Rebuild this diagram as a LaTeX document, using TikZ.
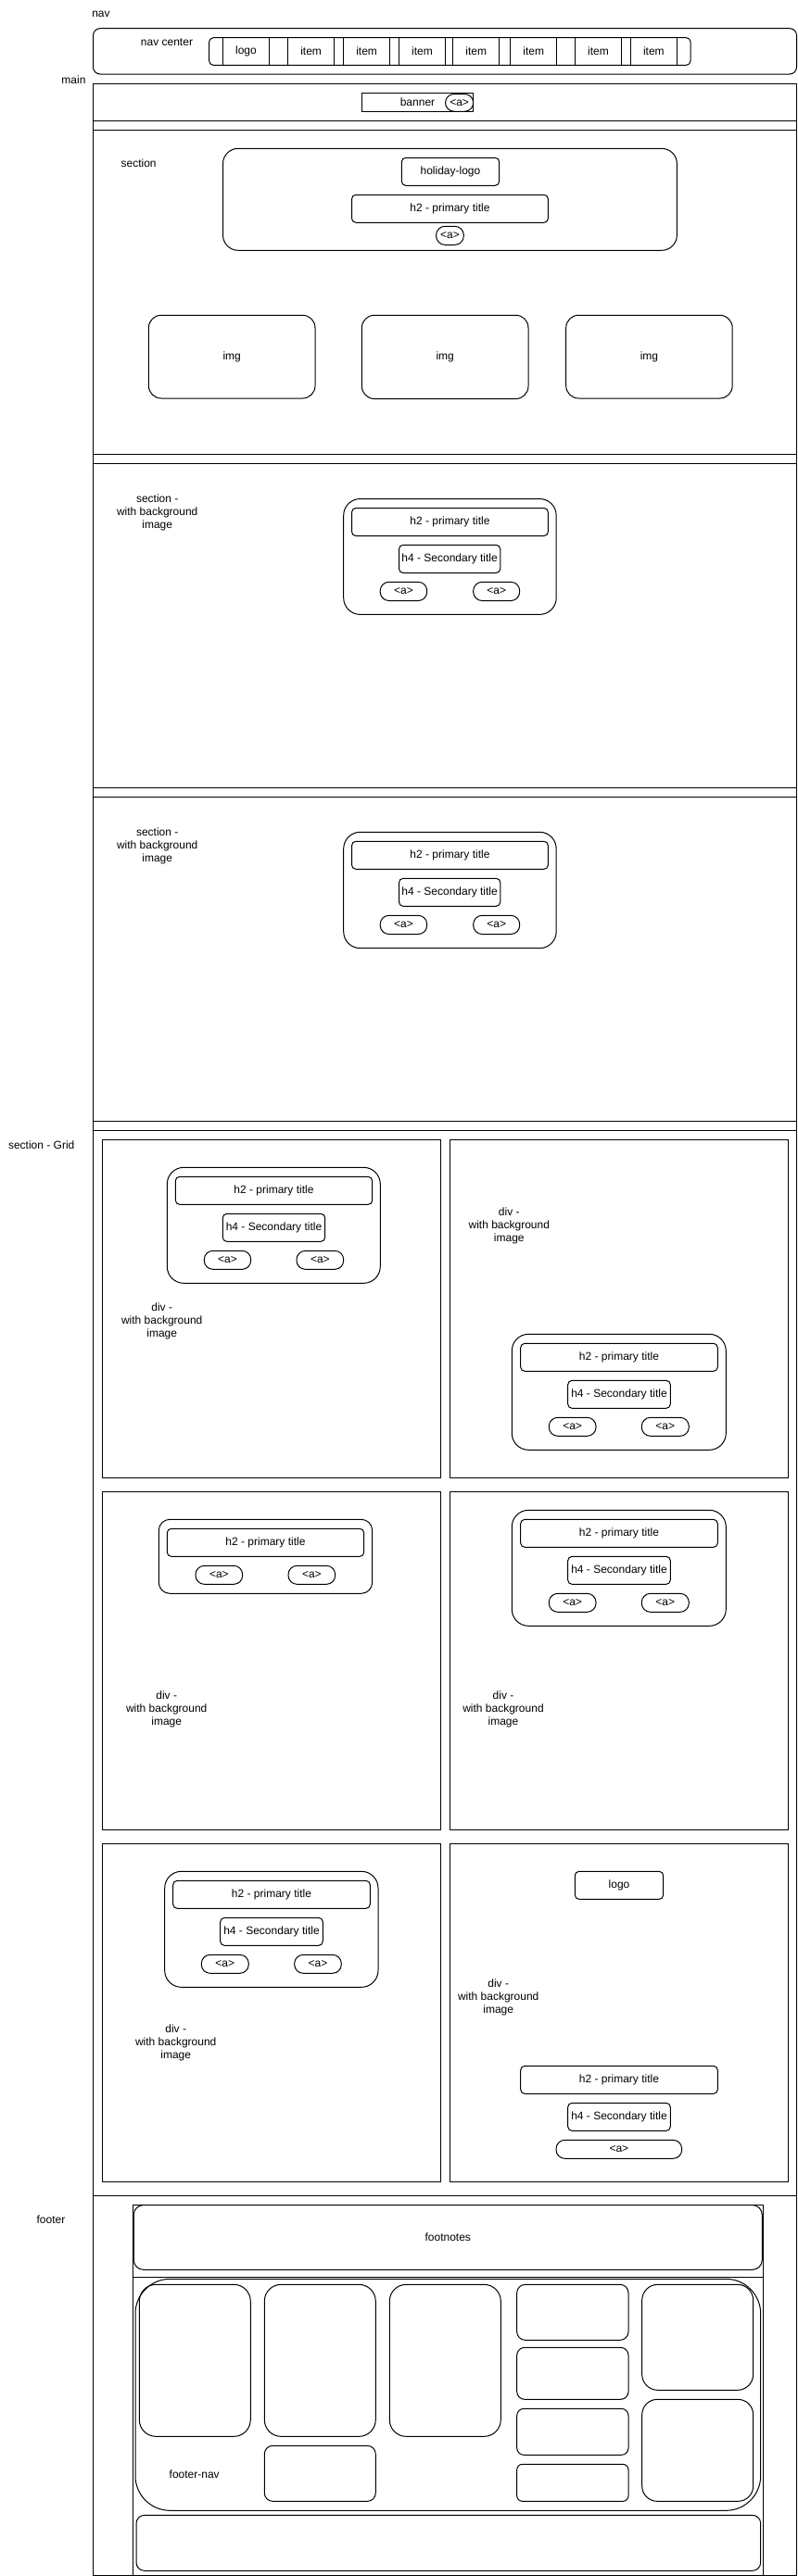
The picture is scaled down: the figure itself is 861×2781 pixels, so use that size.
\documentclass[tikz,border=0pt]{standalone}
\usepackage{fontspec}
\setmainfont{Liberation Sans}
\tikzset{
  box/.style={draw, line width=1pt, inner sep=0pt, outer sep=0pt, font=\fontsize{12}{14}\selectfont, align=center},
  lbl/.style={inner sep=0pt, font=\fontsize{12}{14}\selectfont, align=center},
  pill/.style={rounded corners=9.5pt},
  sm/.style={rounded corners=4.5pt},
}
\newcommand\bx[7][]{\node[box,#1,minimum width={(#5)-(#3)},minimum height={(#6)-(#4)}] (#2) at ({((#3)+(#5))/2},{((#4)+(#6))/2}) {#7};}
\begin{document}
\begin{tikzpicture}[x=1pt,y=-1pt]
\useasboundingbox (0,0) rectangle (861,2781);
% ---------- nav ----------
\node[lbl] (navlbl) at (109,15.7) {nav};
\bx[rounded corners=7.5pt]{nav}{100.5}{30.7}{859.5}{80}{}
\node[lbl] (navclbl) at (180,46) {nav center};
\bx[sm]{navc}{225.7}{40.7}{745}{70.3}{}
\bx{ni0}{240.5}{40.7}{290.5}{70.3}{logo}
\bx{ni1}{310.8}{40.7}{360.4}{70.3}{item}
\bx{ni2}{370.7}{40.7}{420.6}{70.3}{item}
\bx{ni3}{430.5}{40.7}{480.5}{70.3}{item}
\bx{ni4}{488.7}{40.7}{538.7}{70.3}{item}
\bx{ni5}{550.8}{40.7}{600.8}{70.3}{item}
\bx{ni6}{620.5}{40.7}{670.5}{70.3}{item}
\bx{ni7}{680.4}{40.7}{730.4}{70.3}{item}
% ---------- main ----------
\node[lbl] (mainlbl) at (79.5,86) {main};
\bx{main}{100.5}{90.5}{859.5}{2780.3}{}
\bx{bannerrow}{100.5}{90.5}{859.5}{130.5}{}
\bx{banner}{390.3}{100.3}{510.7}{120.3}{banner}
\bx[pill]{bannera}{480.5}{101.5}{510.7}{120.3}{<a>}
% ---------- section 1 ----------
\bx{sec1}{100.5}{140.5}{859.5}{490.5}{}
\node[lbl] (sec1lbl) at (149.6,176) {section};
\bx[rounded corners=16.5pt]{hol}{240.5}{160.3}{730.4}{270.3}{}
\bx[sm]{hollogo}{433.3}{170.3}{538.7}{200.3}{holiday-logo}
\bx[sm]{holh2}{379.5}{210.3}{591.4}{240.3}{h2 - primary title}
\bx[pill]{hola}{470.6}{244.3}{500.3}{264.3}{<a>}
\bx[rounded corners=13.5pt]{img1}{160.4}{340.3}{340}{430}{img}
\bx[rounded corners=13.5pt]{img2}{390.4}{340.3}{570}{430.5}{img}
\bx[rounded corners=13.5pt]{img3}{610.7}{340.3}{790.2}{430}{img}
% ---------- section 2 ----------
\bx{sec2}{100.5}{500.5}{859.5}{850.5}{}
\node[lbl] (sec2lbl) at (169.7,552.9) {section -\\with background\\image};
\bx[rounded corners=18pt]{s2in}{370.7}{538.5}{600.2}{663.4}{}
\bx[sm]{s2h2}{379.5}{548.5}{591.4}{578.5}{h2 - primary title}
\bx[sm]{s2h4}{430.5}{588.3}{539.8}{618.5}{h4 - Secondary title}
\bx[pill]{s2a1}{410.2}{628.3}{460.7}{648.5}{<a>}
\bx[pill]{s2a2}{510.7}{628.3}{560.7}{648.5}{<a>}
% ---------- section 3 ----------
\bx{sec3}{100.5}{860.5}{859.5}{1210.5}{}
\node[lbl] (sec3lbl) at (169.7,913) {section -\\with background\\image};
\bx[rounded corners=18pt]{s3in}{370.7}{898.3}{600.2}{1023.7}{}
\bx[sm]{s3h2}{379.5}{908.3}{591.4}{938.3}{h2 - primary title}
\bx[sm]{s3h4}{430.5}{948.3}{539.8}{978.3}{h4 - Secondary title}
\bx[pill]{s3a1}{410.2}{988.3}{460.7}{1008.5}{<a>}
\bx[pill]{s3a2}{510.7}{988.3}{560.7}{1008.5}{<a>}
% ---------- grid ----------
\bx{grid}{100.5}{1220.5}{859.5}{2370.5}{}
\node[lbl] (gridlbl) at (44.7,1236) {section - Grid};
\bx{cTL}{110.3}{1230.3}{475.7}{1595.3}{}
\bx{cTR}{485.3}{1230.3}{850.7}{1595.3}{}
\bx{cML}{110.3}{1610.3}{475.7}{1975.3}{}
\bx{cMR}{485.3}{1610.3}{850.7}{1975.3}{}
\bx{cBL}{110.3}{1990.3}{475.7}{2355.3}{}
\bx{cBR}{485.3}{1990.3}{850.7}{2355.3}{}
% TL
\bx[rounded corners=18pt]{tlin}{180.3}{1260.3}{410.3}{1385.3}{}
\bx[sm]{tlh2}{189.3}{1270.3}{401.7}{1300.3}{h2 - primary title}
\bx[sm]{tlh4}{240.3}{1310.3}{350.7}{1340.3}{h4 - Secondary title}
\bx[pill]{tla1}{220.3}{1350.3}{270.7}{1370.3}{<a>}
\bx[pill]{tla2}{320}{1350.3}{370.7}{1370.3}{<a>}
\node[lbl] (tllbl) at (174.7,1426) {div -\\with background\\image};
% TR
\node[lbl] (trlbl) at (549.3,1323) {div -\\with background\\image};
\bx[rounded corners=18pt]{trin}{552.3}{1440.3}{783.3}{1565.3}{}
\bx[sm]{trh2}{561.7}{1450.3}{774.3}{1480.3}{h2 - primary title}
\bx[sm]{trh4}{612.7}{1490.3}{723.3}{1520.3}{h4 - Secondary title}
\bx[pill]{tra1}{592.3}{1530.3}{643}{1550.3}{<a>}
\bx[pill]{tra2}{692.3}{1530.3}{743.3}{1550.3}{<a>}
% ML
\bx[rounded corners=12pt]{mlin}{171.3}{1640.3}{401.7}{1720.3}{}
\bx[sm]{mlh2}{180.3}{1650.3}{392.7}{1680.3}{h2 - primary title}
\bx[pill]{mla1}{211}{1690.3}{261.7}{1710.3}{<a>}
\bx[pill]{mla2}{311}{1690.3}{361.7}{1710.3}{<a>}
\node[lbl] (mllbl) at (179.7,1845.7) {div -\\with background\\image};
% MR
\bx[rounded corners=18pt]{mrin}{552.3}{1630.3}{783.3}{1755.3}{}
\bx[sm]{mrh2}{561.7}{1640.3}{774.3}{1670.3}{h2 - primary title}
\bx[sm]{mrh4}{612.7}{1680.3}{723.3}{1710.3}{h4 - Secondary title}
\bx[pill]{mra1}{592.3}{1720.3}{643}{1740.3}{<a>}
\bx[pill]{mra2}{692.3}{1720.3}{743.3}{1740.3}{<a>}
\node[lbl] (mrlbl) at (543,1845.7) {div -\\with background\\image};
% BL
\bx[rounded corners=18pt]{blin}{177.7}{2020.3}{408}{2145.3}{}
\bx[sm]{blh2}{186.7}{2030.3}{399.3}{2060.3}{h2 - primary title}
\bx[sm]{blh4}{237.7}{2070.3}{348.3}{2100.3}{h4 - Secondary title}
\bx[pill]{bla1}{217.3}{2110.3}{268.3}{2130.3}{<a>}
\bx[pill]{bla2}{317.7}{2110.3}{368.3}{2130.3}{<a>}
\node[lbl] (bllbl) at (189.7,2205.7) {div -\\with background\\image};
% BR
\bx[sm]{brlogo}{620.3}{2020.3}{715.7}{2050.3}{logo}
\node[lbl] (brlbl) at (537.7,2156) {div -\\with background\\image};
\bx[sm]{brh2}{561.7}{2230.3}{774.3}{2260.3}{h2 - primary title}
\bx[sm]{brh4}{612.7}{2270.3}{723.3}{2300.3}{h4 - Secondary title}
\bx[pill]{bra}{600}{2310.3}{735.7}{2330.3}{<a>}
% ---------- footer ----------
\node[lbl] (footlbl) at (55,2395.7) {footer};
\bx{footer}{143}{2380.5}{823.3}{2780.3}{}
\bx[rounded corners=10.5pt]{footnotes}{144.3}{2380.5}{822.3}{2450.3}{footnotes}
\bx{footlow}{143}{2458.3}{823.3}{2780.3}{}
\bx[rounded corners=37.5pt]{footnav}{146}{2460.3}{820.7}{2710.3}{}
\node[lbl] (footnavlbl) at (209.7,2671) {footer-nav};
\bx[rounded corners=18pt]{fA}{150.3}{2466.3}{270.3}{2630.3}{}
\bx[rounded corners=18pt]{fB}{285.3}{2466.3}{405.3}{2630.3}{}
\bx[rounded corners=18pt]{fC}{420.3}{2466.3}{540.3}{2630.3}{}
\bx[rounded corners=9pt]{fD}{285.3}{2640.3}{405.3}{2700.3}{}
\bx[rounded corners=9pt]{fE1}{557.7}{2466.3}{678}{2526.3}{}
\bx[rounded corners=8.4pt]{fE2}{557.7}{2534.3}{678}{2590.3}{}
\bx[rounded corners=7.5pt]{fE3}{557.7}{2600.3}{678}{2650.3}{}
\bx[rounded corners=6pt]{fE4}{557.7}{2660.3}{678}{2700.3}{}
\bx[rounded corners=17pt]{fF1}{692.7}{2466.3}{812.7}{2580.3}{}
\bx[rounded corners=16.5pt]{fF2}{692.7}{2590.3}{812.7}{2700.3}{}
\bx[rounded corners=9pt]{fbot}{147}{2715.3}{820.7}{2775.3}{}
\end{tikzpicture}
\end{document}
